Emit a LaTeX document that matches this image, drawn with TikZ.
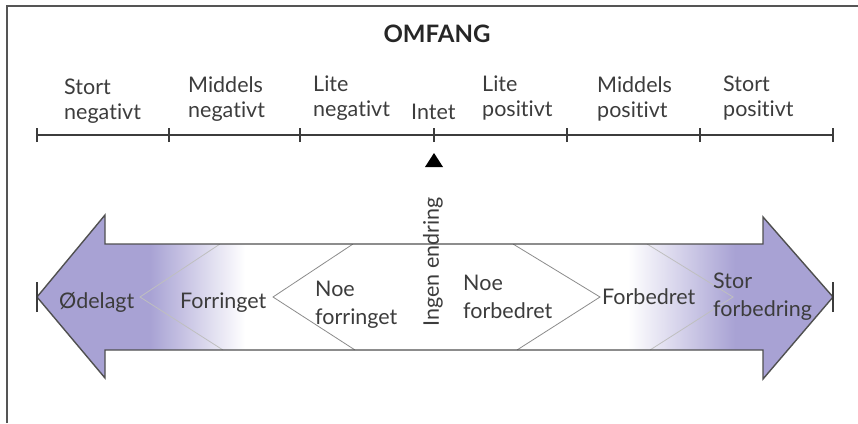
\documentclass[tikz,border=0pt]{standalone}
\usepackage{fontspec}
\setmainfont{Lato}[Ligatures=NoCommon]
\definecolor{ink}{RGB}{60,60,60}
\definecolor{lilac}{RGB}{168,162,212}
\definecolor{frame}{RGB}{85,85,85}
\begin{document}
\begin{tikzpicture}[x=1pt,y=-1pt,
  lbl/.style={font=\fontsize{21.5}{25}\selectfont, text=ink, align=left, inner sep=0pt},
  lbltall/.style={lbl, font=\fontsize{21.5}{27.5}\selectfont},
  scaletick/.style={draw=ink, line width=1.6pt},
  chev/.style={draw=black!45, line width=0.8pt},
  chevlight/.style={draw=white!75!black, line width=0.8pt},
  outline/.style={draw=ink!90, line width=1.4pt, line join=miter}]
\useasboundingbox (0,0) rectangle (858,423);

% frame: top and left edges only
\draw[frame, line width=2pt] (7,423) -- (7,6) -- (858,6);

% title
\node[font=\fontsize{24}{28}\bfseries\selectfont, text=black!85, inner sep=0pt, anchor=base] (title) at (437,42) {OMFANG};

% scale with ticks
\foreach \i/\x in {0/37,1/169,2/300,3/434,4/567,5/700,6/833}
  \coordinate (t\i) at (\x,135);
\draw[scaletick] (t0) -- (t6);
\foreach \i in {0,...,6}
  \draw[scaletick] ([yshift=-7pt]t\i) -- ([yshift=7pt]t\i);

% scale labels
\node[lbl, anchor=north west] (sn) at (64,79)  {Stort\\negativt};
\node[lbl, anchor=north west] (mn) at (188,76) {Middels\\negativt};
\node[lbl, anchor=north west] (ln) at (313,76) {Lite\\negativt};
\node[lbl, anchor=base west]  (in) at (411,119) {Intet};
\node[lbl, anchor=north west] (lp) at (482,76) {Lite\\positivt};
\node[lbl, anchor=north west] (mp) at (597,76) {Middels\\positivt};
\node[lbl, anchor=north west] (sp) at (723,76) {Stort\\positivt};

% marker under "Intet"
\fill[black] (425,167) -- (443,167) -- (434,153) -- cycle;

% double arrow
\coordinate (ltip) at (37,297);
\coordinate (rtip) at (833,297);
\path[save path=\arrowpath]
  (ltip) -- (105,215) -- (105,244) -- (763,244) -- (763,217) -- (rtip)
  -- (763,379) -- (763,350) -- (105,350) -- (105,378) -- cycle;
\begin{scope}
  \clip[use path=\arrowpath];
  \fill[white] (30,200) rectangle (840,390);
  \fill[lilac] (30,200) rectangle (150,390);
  \shade[left color=lilac, right color=white] (150,200) rectangle (245,390);
  \shade[left color=white, right color=lilac] (628,200) rectangle (735,390);
  \fill[lilac] (735,200) rectangle (840,390);
  % chevrons
  \draw[chevlight] (220,244) -- (140,297) -- (223,350);
  \draw[chev] (353,244) -- (273,297) -- (355,350);
  \draw[chev] (513,244) -- (600,297) -- (517,350);
  \draw[chevlight] (647,244) -- (733,297) -- (650,350);
\end{scope}
\draw[outline, use path=\arrowpath];
% end bars at the tips
\draw[scaletick] ([yshift=-15pt]ltip) -- ([yshift=15pt]ltip);
\draw[scaletick] ([yshift=-15pt]rtip) -- ([yshift=15pt]rtip);

% arrow labels
\node[lbl, anchor=base west] (od) at (59,308)  {Ødelagt};
\node[lbl, anchor=base west] (fo) at (180,308) {Forringet};
\node[lbltall, anchor=north west] (nf) at (315,281) {Noe\\forringet};
\node[lbltall, anchor=north west] (nb) at (463,275) {Noe\\forbedret};
\node[lbl, anchor=base west] (fb) at (602,304) {Forbedret};
\node[lbltall, anchor=north west] (sf) at (713,273) {Stor\\forbedring};

% vertical label
\node[lbl, rotate=90] (ie) at (433,262) {Ingen endring};
\end{tikzpicture}
\end{document}
